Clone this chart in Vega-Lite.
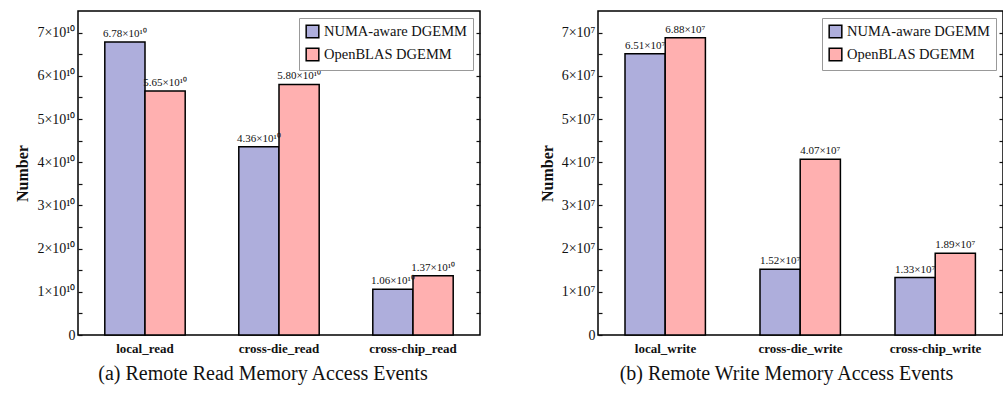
{
  "$schema": "https://vega.github.io/schema/vega-lite/v6.json",
  "padding": {"left": 14, "top": 10, "right": 2, "bottom": 4},
  "spacing": 56,
  "datasets": {
    "read": [
      {"category": "local_read", "series": "NUMA-aware DGEMM", "value": 67800000000},
      {"category": "local_read", "series": "OpenBLAS DGEMM", "value": 56500000000},
      {"category": "cross-die_read", "series": "NUMA-aware DGEMM", "value": 43600000000},
      {"category": "cross-die_read", "series": "OpenBLAS DGEMM", "value": 58000000000},
      {"category": "cross-chip_read", "series": "NUMA-aware DGEMM", "value": 10600000000},
      {"category": "cross-chip_read", "series": "OpenBLAS DGEMM", "value": 13700000000}
    ],
    "write": [
      {"category": "local_write", "series": "NUMA-aware DGEMM", "value": 65100000},
      {"category": "local_write", "series": "OpenBLAS DGEMM", "value": 68800000},
      {"category": "cross-die_write", "series": "NUMA-aware DGEMM", "value": 15200000},
      {"category": "cross-die_write", "series": "OpenBLAS DGEMM", "value": 40700000},
      {"category": "cross-chip_write", "series": "NUMA-aware DGEMM", "value": 13300000},
      {"category": "cross-chip_write", "series": "OpenBLAS DGEMM", "value": 18900000}
    ]
  },
  "resolve": {"scale": {"color": "independent", "y": "independent"}},
  "hconcat": [
    {
      "width": 402,
      "height": 324,
      "data": {"name": "read"},
      "transform": [{"calculate": "format(datum.value/1e10,'.2f') + '×10¹⁰'", "as": "label"}],
      "title": {"text": "(a) Remote Read Memory Access Events", "orient": "bottom", "anchor": "middle", "dx": -16, "offset": 9, "fontSize": 20, "fontWeight": "normal", "font": "Liberation Serif", "color": "#111"},
      "encoding": {
        "x": {"field": "category", "type": "nominal", "sort": ["local_read", "cross-die_read", "cross-chip_read"], "scale": {"paddingInner": 0.4, "paddingOuter": 0.2}, "axis": {"title": null, "labelAngle": 0, "ticks": false, "domain": false, "labelFontWeight": "bold", "labelFontSize": 13, "labelPadding": 7}},
        "xOffset": {"field": "series", "type": "nominal", "sort": ["NUMA-aware DGEMM", "OpenBLAS DGEMM"]}
      },
      "resolve": {"axis": {"y": "independent"}},
      "layer": [
        {
          "mark": {"type": "bar", "stroke": "black", "strokeWidth": 1.5},
          "encoding": {
            "y": {"field": "value", "type": "quantitative", "scale": {"domain": [0, 75000000000], "nice": false}, "axis": {"title": "Number", "titleFontSize": 16, "titleFontWeight": "bold", "titlePadding": 6, "domain": false, "grid": false, "values": [0, 5000000000, 10000000000, 15000000000, 20000000000, 25000000000, 30000000000, 35000000000, 40000000000, 45000000000, 50000000000, 55000000000, 60000000000, 65000000000, 70000000000], "labelExpr": "datum.value % 10000000000 == 0 ? (datum.value == 0 ? '0' : (datum.value/10000000000) + '×10¹⁰') : ''", "tickSize": -4, "labelPadding": 7, "labelFontSize": 14}},
            "color": {"field": "series", "type": "nominal", "sort": ["NUMA-aware DGEMM", "OpenBLAS DGEMM"], "scale": {"range": ["#aeaedc", "#ffb0b0"]}, "legend": {"title": null, "orient": "top-right", "offset": 7, "symbolType": "square", "symbolSize": 160, "symbolStrokeColor": "black", "symbolStrokeWidth": 1.5, "symbolOpacity": 1, "labelFontSize": 14.5, "labelColor": "#111", "strokeColor": "#999", "fillColor": "white", "padding": 6, "rowPadding": 4, "labelLimit": 300}}
          }
        },
        {
          "mark": {"type": "text", "dy": -3, "fontSize": 11, "font": "Liberation Serif", "color": "#111", "baseline": "bottom"},
          "encoding": {
            "y": {"field": "value", "type": "quantitative", "scale": {"domain": [0, 75000000000], "nice": false}, "axis": {"orient": "right", "title": null, "labels": false, "domain": false, "grid": false, "values": [5000000000, 10000000000, 15000000000, 20000000000, 25000000000, 30000000000, 35000000000, 40000000000, 45000000000, 50000000000, 55000000000, 60000000000, 65000000000, 70000000000], "tickSize": -4}},
            "text": {"field": "label"}
          }
        }
      ]
    },
    {
      "width": 405,
      "height": 324,
      "data": {"name": "write"},
      "transform": [{"calculate": "format(datum.value/1e7,'.2f') + '×10⁷'", "as": "label"}],
      "title": {"text": "(b) Remote Write Memory Access Events", "orient": "bottom", "anchor": "middle", "dx": -14, "offset": 9, "fontSize": 20, "fontWeight": "normal", "font": "Liberation Serif", "color": "#111"},
      "encoding": {
        "x": {"field": "category", "type": "nominal", "sort": ["local_write", "cross-die_write", "cross-chip_write"], "scale": {"paddingInner": 0.4, "paddingOuter": 0.2}, "axis": {"title": null, "labelAngle": 0, "ticks": false, "domain": false, "labelFontWeight": "bold", "labelFontSize": 13, "labelPadding": 7}},
        "xOffset": {"field": "series", "type": "nominal", "sort": ["NUMA-aware DGEMM", "OpenBLAS DGEMM"]}
      },
      "resolve": {"axis": {"y": "independent"}},
      "layer": [
        {
          "mark": {"type": "bar", "stroke": "black", "strokeWidth": 1.5},
          "encoding": {
            "y": {"field": "value", "type": "quantitative", "scale": {"domain": [0, 75000000], "nice": false}, "axis": {"title": "Number", "titleFontSize": 16, "titleFontWeight": "bold", "titlePadding": 6, "domain": false, "grid": false, "values": [0, 5000000, 10000000, 15000000, 20000000, 25000000, 30000000, 35000000, 40000000, 45000000, 50000000, 55000000, 60000000, 65000000, 70000000], "labelExpr": "datum.value % 10000000 == 0 ? (datum.value == 0 ? '0' : (datum.value/10000000) + '×10⁷') : ''", "tickSize": -4, "labelPadding": 7, "labelFontSize": 14}},
            "color": {"field": "series", "type": "nominal", "sort": ["NUMA-aware DGEMM", "OpenBLAS DGEMM"], "scale": {"range": ["#aeaedc", "#ffb0b0"]}, "legend": {"title": null, "orient": "top-right", "offset": 7, "symbolType": "square", "symbolSize": 160, "symbolStrokeColor": "black", "symbolStrokeWidth": 1.5, "symbolOpacity": 1, "labelFontSize": 14.5, "labelColor": "#111", "strokeColor": "#999", "fillColor": "white", "padding": 6, "rowPadding": 4, "labelLimit": 300}}
          }
        },
        {
          "mark": {"type": "text", "dy": -3, "fontSize": 11, "font": "Liberation Serif", "color": "#111", "baseline": "bottom"},
          "encoding": {
            "y": {"field": "value", "type": "quantitative", "scale": {"domain": [0, 75000000], "nice": false}, "axis": {"orient": "right", "title": null, "labels": false, "domain": false, "grid": false, "values": [5000000, 10000000, 15000000, 20000000, 25000000, 30000000, 35000000, 40000000, 45000000, 50000000, 55000000, 60000000, 65000000, 70000000], "tickSize": -4}},
            "text": {"field": "label"}
          }
        }
      ]
    }
  ],
  "config": {
    "font": "Liberation Serif",
    "text": {"font": "Liberation Serif"},
    "view": {"stroke": "black", "strokeWidth": 1.5},
    "axis": {"labelColor": "#111", "titleColor": "#111", "tickColor": "#111", "tickWidth": 1.2},
    "legend": {"labelFont": "Liberation Serif"}
  }
}
